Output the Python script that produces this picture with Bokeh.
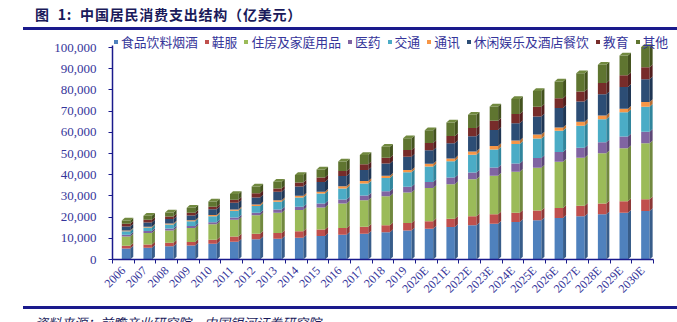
import math
import numpy as np
from bokeh.plotting import figure
from bokeh.layouts import column
from bokeh.models import (Range1d, FixedTicker, CustomJSTickFormatter, NumeralTickFormatter,
                          ColumnDataSource, Legend, LegendItem, Div)
from bokeh.embed import file_html
from bokeh.resources import INLINE

# ---------------- data (亿美元) ----------------
years = ["2006", "2007", "2008", "2009", "2010", "2011", "2012", "2013", "2014",
         "2015", "2016", "2017", "2018", "2019", "2020E", "2021E", "2022E", "2023E",
         "2024E", "2025E", "2026E", "2027E", "2028E", "2029E", "2030E"]

series_names = ["食品饮料烟酒", "鞋服", "住房及家庭用品", "医药", "交通", "通讯",
                "休闲娱乐及酒店餐饮", "教育", "其他"]

food = [5200, 5500, 6300, 6600, 7400, 8400, 9500, 9800, 10300, 11100, 11700, 12200, 12900,
        13700, 14500, 15300, 16100, 16900, 17700, 18500, 19600, 20400, 21300, 22100, 22900]
clothing = [1260, 1600, 1600, 1700, 1900, 2400, 2700, 2700, 3000, 3000, 3200, 3200, 3200,
            3500, 3600, 3900, 4300, 4400, 4400, 4600, 4700, 4900, 5100, 5400, 5500]
housing = [4400, 5400, 5800, 6600, 7300, 7900, 8700, 9500, 10000, 10400, 11500, 12600, 13700,
           14400, 15600, 16300, 17400, 18200, 19300, 20200, 21800, 22700, 23700, 25000, 26400]
medical = [800, 950, 950, 950, 950, 1100, 1100, 1600, 1600, 1900, 1900, 2200, 2400,
           2700, 2800, 3200, 3200, 3900, 3900, 4600, 4600, 4700, 5200, 5500, 5500]
transport = [1700, 1600, 1900, 2200, 2800, 3200, 3200, 3600, 4400, 4700, 5200, 5700, 6300,
             6800, 7400, 7700, 8400, 8500, 9200, 9200, 10000, 10400, 10900, 11400, 11800]
telecom = [300, 400, 450, 500, 600, 600, 800, 800, 800, 800, 1000, 1100, 1000,
           1100, 1300, 1300, 1600, 1600, 1600, 1900, 1600, 1900, 1700, 1700, 2200]
leisure = [1900, 2000, 2050, 2200, 2700, 3200, 3300, 3900, 4300, 4600, 4900, 5200, 5800,
           6300, 6300, 7100, 7100, 7600, 8200, 8400, 9200, 9500, 10100, 10300, 10700]
education = [1260, 1260, 1260, 1260, 1260, 1400, 1900, 1600, 1900, 2200, 2400, 2700, 2700,
             3200, 3500, 3500, 3900, 4300, 4300, 4700, 4600, 4700, 5200, 5500, 5700]
other = [1600, 1900, 1900, 2400, 2400, 2700, 3200, 3200, 3600, 3800, 4400, 4400, 5200,
         5500, 6000, 6300, 6300, 6800, 7100, 7400, 7900, 8700, 8700, 9300, 9500]

y_ticks = list(range(0, 100001, 10000))

series_values = [food, clothing, housing, medical, transport, telecom, leisure, education, other]

title_text = "图&nbsp;&nbsp;1:&nbsp;&nbsp;中国居民消费支出结构（亿美元）"
source_text = "资料来源：前瞻产业研究院，中国银河证券研究院"

# ---------------- style ----------------
colors = ["#4F81BD", "#C0504D", "#9BBB59", "#8064A2", "#4BACC6", "#F79646",
          "#2C4D75", "#772C2A", "#5F7530"]
side_colors = ["#385D8A", "#8C3836", "#71893F", "#5C4776", "#31859C", "#B66D31",
               "#1F3654", "#521E1D", "#44531F"]
top_color = "#71893F"
NAVY = "#1a1a8c"
TXT = "#35359a"

W = 677
TOP_H = 31
FIG_H = 274
BOT_H = 17

top_div = Div(width=W, height=TOP_H, margin=0, text=(
    f'<div style="position:relative;width:{W}px;height:{TOP_H}px;overflow:hidden;">'
    f'<span style="position:absolute;left:35px;top:4px;font-family:\'Noto Sans CJK SC\';'
    f'font-weight:bold;font-size:14px;line-height:20px;letter-spacing:0.8px;'
    f'color:#1a1a5a;white-space:nowrap;">{title_text}</span>'
    f'<div style="position:absolute;left:23px;top:27px;width:{W-23}px;height:3px;'
    f'background:{NAVY};"></div></div>'))

bot_div = Div(width=W, height=BOT_H, margin=0, text=(
    f'<div style="position:relative;width:{W}px;height:{BOT_H}px;overflow:hidden;">'
    f'<div style="position:absolute;left:23px;top:1px;width:{W-23}px;height:2.5px;'
    f'background:{NAVY};"></div>'
    f'<span style="position:absolute;left:35px;top:9px;font-family:\'Noto Sans CJK SC\';'
    f'font-style:italic;font-size:13px;line-height:18px;color:#1a1a5a;white-space:nowrap;">'
    f'{source_text}</span></div>'))

# frame: top at page y=31, bottom (value 0) at page y=259; 100,000 at page y=47
frame_h = 259 - TOP_H
y_end = 100000 * frame_h / (259 - 47)
# x: 25 categories over 541 px (x=112..653); frame continues to the right edge
cat_px = 541 / 25
x_end = (W - 112) / cat_px

p = figure(width=W, height=FIG_H, output_backend="svg", toolbar_location=None,
           x_range=Range1d(0, x_end), y_range=Range1d(0, y_end),
           min_border_left=112, min_border_right=0, min_border_top=0,
           min_border_bottom=FIG_H - frame_h, margin=0)
p.outline_line_color = None
p.xgrid.visible = False
p.ygrid.visible = False
p.background_fill_color = "white"
p.border_fill_color = "white"

n = len(years)
centers = np.arange(n) + 0.5
FL, FR, SD = -0.07, 0.32, 0.14   # front left/right offsets, side depth (category units)
DY = 1300                        # depth rise in data units

bottom = np.zeros(n)
legend_items = []
for j, vals in enumerate(series_values):
    v = np.array(vals, dtype=float)
    top = bottom + v
    src = ColumnDataSource(dict(left=centers + FL, right=centers + FR, bottom=bottom, top=top))
    r = p.quad(left="left", right="right", bottom="bottom", top="top", source=src,
               fill_color=colors[j], line_color=None)
    legend_items.append(LegendItem(label=series_names[j], renderers=[r]))
    xs = [[c + FR, c + FR + SD, c + FR + SD, c + FR] for c in centers]
    ys = [[b, b + DY, t + DY, t] for b, t in zip(bottom, top)]
    p.patches(xs=xs, ys=ys, fill_color=side_colors[j], line_color=None)
    bottom = top

# top faces
xs = [[c + FL, c + FR, c + FR + SD, c + FL + SD] for c in centers]
ys = [[t, t, t + DY, t + DY] for t in bottom]
p.patches(xs=xs, ys=ys, fill_color=top_color, line_color=None)

# ---------------- axes ----------------
yax = p.yaxis[0]
yax.ticker = FixedTicker(ticks=y_ticks)
yax.formatter = NumeralTickFormatter(format="0,0")
yax.bounds = (0, 101000)
yax.axis_line_color = NAVY
yax.axis_line_width = 1.5
yax.major_tick_line_color = NAVY
yax.major_tick_out = 4
yax.major_tick_in = 0
yax.minor_tick_line_color = None
yax.major_label_text_font = "Liberation Serif"
yax.major_label_text_font_size = "13px"
yax.major_label_text_color = TXT
yax.major_label_standoff = 12

xax = p.xaxis[0]
xax.ticker = FixedTicker(ticks=list(centers), minor_ticks=list(range(n + 1)))
xax.formatter = CustomJSTickFormatter(args=dict(labels=years), code="""
    const i = Math.floor(tick);
    return (i >= 0 && i < labels.length) ? labels[i] : '';
""")
xax.bounds = (0, n)
xax.axis_line_color = NAVY
xax.axis_line_width = 1.5
xax.major_tick_line_color = None
xax.major_tick_out = 0
xax.major_tick_in = 0
xax.minor_tick_line_color = NAVY
xax.minor_tick_out = 4
xax.minor_tick_in = 0
xax.major_label_orientation = math.pi / 4
xax.major_label_text_font = "Liberation Serif"
xax.major_label_text_font_size = "12px"
xax.major_label_text_color = TXT
xax.major_label_standoff = 5

# ---------------- legend (inside frame, top-left) ----------------
legend = Legend(items=legend_items, orientation="horizontal",
                location=(1, frame_h - 20),
                glyph_width=5, glyph_height=5, label_standoff=3, spacing=6,
                padding=0, margin=0, border_line_color=None,
                background_fill_alpha=0, label_height=14,
                label_text_font="Noto Sans CJK SC", label_text_font_size="12.8px",
                label_text_color=TXT)
p.add_layout(legend)

layout = column(top_div, p, bot_div, spacing=0, margin=0)

open("out.html", "w").write(file_html(layout, INLINE))
